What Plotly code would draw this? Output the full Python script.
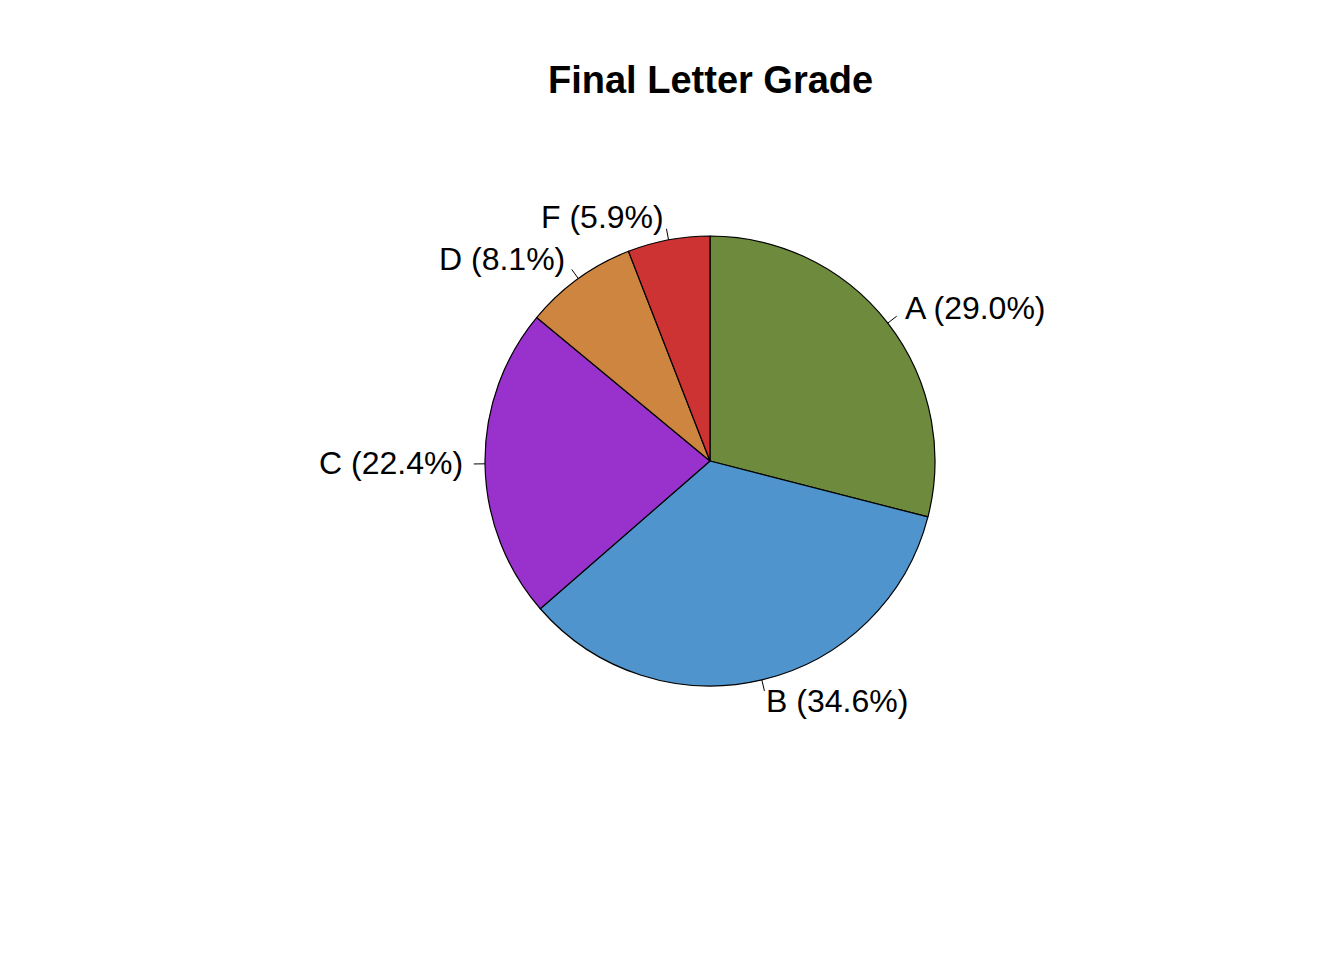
import numpy as np
import plotly.graph_objects as go

grades = ["A", "B", "C", "D", "F"]
percents = [29.0, 34.6, 22.4, 8.1, 5.9]
colors = ["#6E8B3D", "#4F94CD", "#9932CC", "#CD853F", "#CD3333"]
title = "Final Letter Grade"

W, H = 1344, 960
off = 8  # page body margin offset
cx, cy, r = 710 - off, 461 - off, 225  # pixel center and radius within the figure

fig = go.Figure(go.Pie(
    labels=grades, values=percents, sort=False, direction="clockwise", rotation=0,
    marker=dict(colors=colors, line=dict(color="black", width=1.2)),
    textinfo="none", hoverinfo="label+percent", showlegend=False,
    domain=dict(x=[(cx - r) / W, (cx + r) / W], y=[(H - cy - r) / H, (H - cy + r) / H]),
))

vals = np.array(percents)
cum = np.cumsum(vals) / vals.sum()
mid = cum - vals / vals.sum() / 2
ang = np.pi / 2 - 2 * np.pi * mid

annotations = []
shapes = []
for g, p, a in zip(grades, percents, ang):
    c, s = np.cos(a), np.sin(a)
    x0, y0 = cx + r * c, cy - r * s
    x1, y1 = cx + 1.05 * r * c, cy - 1.05 * r * s
    xt, yt = cx + 1.1 * r * c, cy - 1.1 * r * s
    shapes.append(dict(type="line", xref="paper", yref="paper",
                       x0=x0 / W, y0=1 - y0 / H, x1=x1 / W, y1=1 - y1 / H,
                       line=dict(color="black", width=1)))
    left = c >= 0
    annotations.append(dict(text=f"{g} ({p:.1f}%)", xref="paper", yref="paper",
                            x=xt / W, y=1 - yt / H, showarrow=False,
                            xanchor="left" if left else "right", yanchor="middle",
                            xshift=-3 if left else 2, yshift=1,
                            font=dict(family="Liberation Sans, Arial", size=32, color="black")))

annotations.append(dict(text=f"<b>{title}</b>", xref="paper", yref="paper",
                        x=cx / W, y=1 - (80 - off) / H, showarrow=False, xanchor="center", yanchor="middle",
                        font=dict(family="Liberation Sans, Arial", size=38, color="black")))

fig.update_layout(width=W, height=H, margin=dict(l=0, r=0, t=0, b=0),
                  paper_bgcolor="white", plot_bgcolor="white",
                  annotations=annotations, shapes=shapes)
fig.write_html("out.html")
